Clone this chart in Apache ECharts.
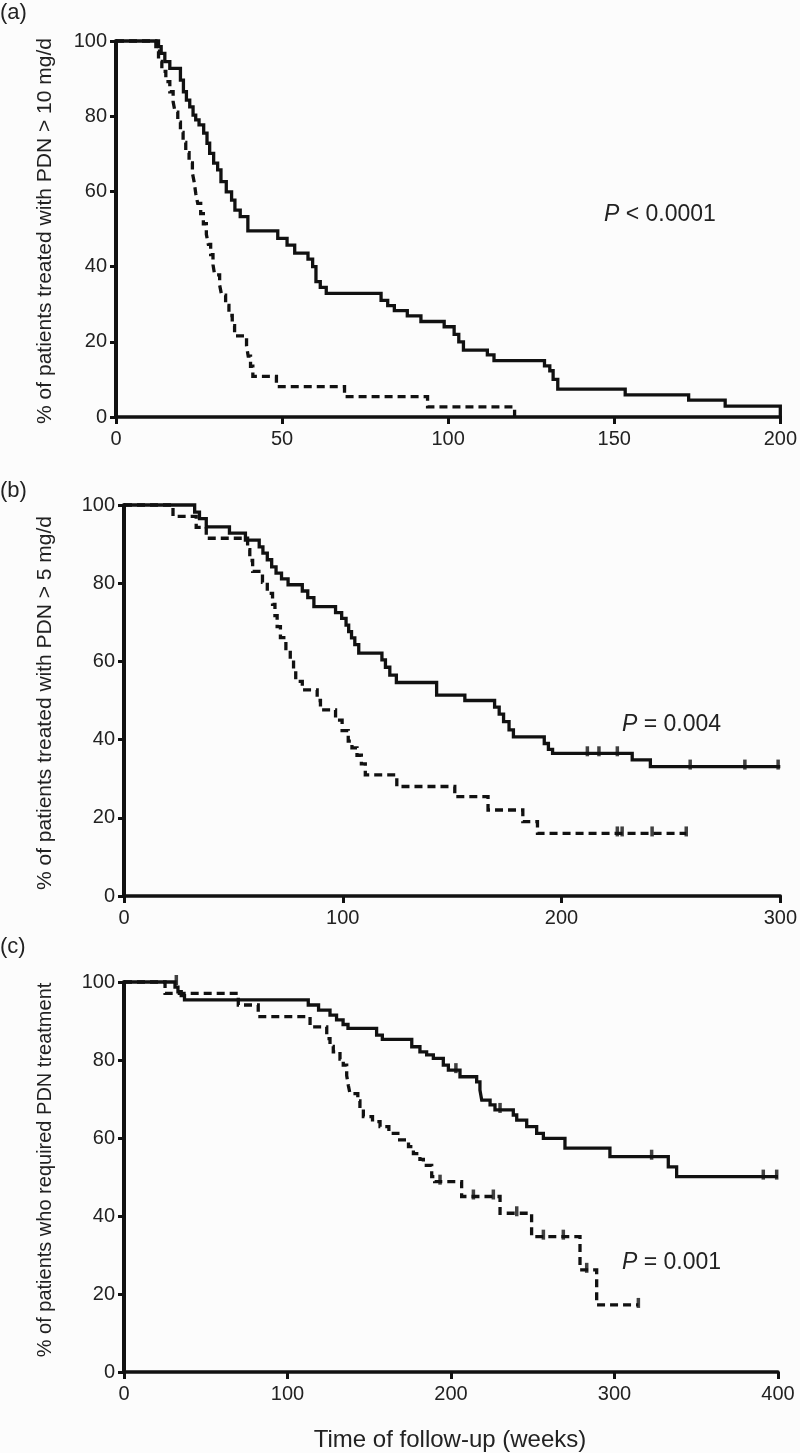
<!DOCTYPE html>
<html><head><meta charset="utf-8">
<script src="https://cdn.jsdelivr.net/npm/echarts@6/dist/echarts.min.js"></script>
<style>html,body{margin:0;padding:0;background:#fcfcfc}#c{width:800px;height:1453px}</style>
</head><body><div id="c"></div>
<script>
// ---------- DATA ----------
// Panel (a): % treated with PDN > 10 mg/d  [weeks, %]
const solidA = [[0,100],[12.8,98.5],[13.6,96.7],[14.7,94.5],[16.2,92.7],[19.4,89.6],[20.3,86.5],[21.2,84.3],[22.2,82.5],[23.2,80.3],[24.0,79.0],[25.0,77.7],[26.4,75.5],[27.4,72.8],[28.2,70.1],[29.4,67.5],[30.6,65.7],[31.6,62.6],[33.2,59.9],[34.8,57.7],[35.8,55.0],[37.4,53.3],[39.7,49.5],[48.7,47.5],[51.5,45.7],[53.8,43.6],[57.8,42.0],[59.2,40.0],[60.2,36.0],[61.5,34.5],[63.3,32.9],[79.8,31.0],[81.8,29.6],[83.8,28.3],[87.7,26.9],[91.8,25.4],[98.8,24.0],[101.8,22.0],[103.2,20.0],[104.6,17.8],[111.8,16.5],[113.8,15.0],[129.0,13.6],[130.6,12.3],[131.6,10.0],[133.0,7.4],[153.3,5.9],[172.4,4.5],[183.4,2.9],[200,0]];
const dashedA = [[0,100],[12.0,97.3],[12.8,94.6],[13.8,91.9],[15.0,89.2],[16.2,86.5],[17.2,83.8],[17.8,81.1],[18.6,78.4],[19.4,75.7],[20.2,73.0],[21.0,70.3],[22.0,67.6],[23.0,64.9],[23.6,62.2],[24.0,59.5],[24.6,56.8],[25.5,54.1],[26.3,51.4],[27.2,48.6],[27.8,45.9],[28.5,43.2],[29.2,40.5],[29.7,37.8],[31.2,35.1],[31.8,32.4],[33.0,29.7],[34.0,27.0],[35.0,24.3],[35.7,21.6],[39.3,18.9],[39.8,16.2],[40.5,13.5],[41.2,10.8],[48.3,8.1],[68.8,5.4],[93.8,2.7],[120,0]];

// Panel (b): % treated with PDN > 5 mg/d
const solidB = [[0,100],[32.3,98.2],[34.5,96.5],[37.6,94.4],[48.2,92.8],[55.5,91.0],[61.8,89.3],[63.5,87.7],[65.5,86.0],[67.5,84.2],[69.5,82.6],[72.0,81.1],[75.0,79.6],[81.5,78.0],[84.0,76.3],[86.8,74.0],[96.7,72.5],[99.5,71.0],[101.5,69.3],[102.7,67.6],[104.0,66.0],[105.5,64.3],[107.3,62.1],[117.9,60.4],[119.5,58.5],[121.5,56.5],[124.5,54.6],[142.9,51.4],[155.8,50.0],[169.4,48.3],[171.5,46.5],[173.5,44.6],[176.0,42.5],[178.0,40.7],[192.1,39.0],[194.0,37.5],[195.9,36.5],[232.3,34.8],[240.6,33.1],[300,33.1]];
const dashedB = [[0,100],[22.4,97.1],[33.0,94.3],[37.6,91.5],[56.5,88.6],[57.5,85.8],[58.8,83.0],[63.3,80.2],[65.5,77.4],[67.9,74.6],[69.0,71.7],[70.0,68.9],[71.5,66.1],[74.0,63.3],[76.0,60.5],[77.5,57.7],[78.5,54.9],[81.5,52.7],[88.3,50.0],[89.8,47.6],[96.7,45.0],[99.7,42.3],[102.5,39.6],[104.2,37.9],[106.5,36.0],[108.5,33.8],[110.3,31.0],[124.7,28.0],[151.2,25.4],[166.4,22.0],[182.3,19.0],[189.0,16.0],[257,16.0]];
const censorSolidB = [[211.8,36.5],[217.1,36.5],[225.5,36.5],[258.8,33.1],[283.8,33.1],[299,33.1]];
const censorDashedB = [[225.5,16.0],[227.7,16.0],[241.4,16.0],[257,16.0]];

// Panel (c): % who required PDN treatment
const solidC = [[0,100],[31.2,98.7],[33.0,97.5],[35.0,96.5],[37.0,95.4],[112.7,94.1],[119.0,92.8],[126.0,91.5],[130.0,90.3],[134.0,89.1],[137.0,88.1],[154.5,86.4],[158.0,85.3],[176.0,83.4],[181.0,82.1],[185.1,81.3],[189.2,80.4],[195.3,78.7],[198.4,77.4],[205.5,75.7],[215.7,74.4],[217.7,72.3],[218.8,69.7],[223.9,68.5],[226.9,67.2],[238.1,65.9],[240.2,64.6],[246.3,62.9],[252.4,61.2],[256.5,59.9],[269.7,57.4],[297.2,55.2],[332.9,52.6],[338.0,50.1],[400,50.1]];
const dashedC = [[0,100],[25.1,97.1],[69.9,94.1],[82.1,91.1],[113.8,88.5],[124.0,85.5],[126.0,83.5],[128.0,82.1],[132.1,80.2],[134.1,78.7],[136.2,76.0],[137.2,73.5],[138.2,71.4],[143.0,69.5],[144.3,68.1],[146.4,65.5],[152.0,64.2],[156.6,62.9],[162.0,61.2],[167.5,59.5],[174.0,57.8],[177.0,56.0],[181.0,54.5],[183.1,53.0],[188.2,50.1],[190.0,48.8],[206.5,45.0],[230.0,40.7],[249.3,34.7],[278.9,26.2],[289.1,17.2],[314.6,17.2]];
const censorSolidC = [[32.0,100],[203.0,77.4],[230.0,67.2],[322.7,55.2],[391.0,50.1],[399.2,50.1]];
const censorDashedC = [[193.3,48.8],[213.7,45.0],[225.9,45.0],[240.2,40.7],[256.5,34.7],[268.7,34.7],[283.0,26.2],[314.6,17.2]];

const xMaxes = [200, 300, 400];
const xIntervals = [50, 100, 100];
const yTitles = ['% of patients treated with PDN > 10 mg/d', '% of patients treated with PDN > 5 mg/d', '% of patients who required PDN treatment'];
const panelLabels = ['(a)', '(b)', '(c)'];
const pLabels = ['< 0.0001', '= 0.004', '= 0.001'];
const xTitle = 'Time of follow-up (weeks)';

// ---------- CHART ----------
const FONT = '"Liberation Sans", Arial, Helvetica, sans-serif';
const INK = '#111';
const chart = echarts.init(document.getElementById('c'));

const grids = [
  {left: 116, top: 41, width: 666, height: 376},
  {left: 124, top: 505, width: 660, height: 391},
  {left: 124, top: 982, width: 654, height: 390}
];

const xAxes = grids.map((g, i) => ({
  type: 'value', gridIndex: i, min: 0, max: xMaxes[i], interval: xIntervals[i],
  axisLine: {show: true, onZero: false, lineStyle: {color: INK, width: 3.5}},
  axisTick: {show: true, length: 7, lineStyle: {color: INK, width: 3}},
  axisLabel: {fontFamily: FONT, fontSize: 20, color: '#222', margin: 12},
  splitLine: {show: false}
}));
const yAxes = grids.map((g, i) => ({
  type: 'value', gridIndex: i, min: 0, max: 100, interval: 20,
  axisLine: {show: true, onZero: false, lineStyle: {color: INK, width: 4}},
  axisTick: {show: true, length: 6, lineStyle: {color: INK, width: 3}},
  axisLabel: {fontFamily: FONT, fontSize: 20, color: '#222', margin: 9},
  splitLine: {show: false}
}));

function stepSeries(data, i, dashed) {
  return {
    type: 'line', xAxisIndex: i, yAxisIndex: i, data: data, step: 'end',
    showSymbol: false, symbol: 'none', clip: false, animation: false,
    lineStyle: {color: INK, width: 3.3, type: dashed ? [8, 5] : 'solid', cap: 'butt', join: 'miter'},
    z: 3
  };
}
function censorSeries(data, i) {
  return {
    type: 'scatter', xAxisIndex: i, yAxisIndex: i, data: data,
    symbol: 'rect', symbolSize: [3.5, 10], symbolOffset: [0, -2],
    itemStyle: {color: INK}, animation: false, clip: false, z: 4
  };
}

const series = [
  stepSeries(solidA, 0, false), stepSeries(dashedA, 0, true),
  stepSeries(solidB, 1, false), stepSeries(dashedB, 1, true),
  censorSeries(censorSolidB, 1), censorSeries(censorDashedB, 1),
  stepSeries(solidC, 2, false), stepSeries(dashedC, 2, true),
  censorSeries(censorSolidC, 2), censorSeries(censorDashedC, 2)
];

const yTitlePos = [[45, 231], [45, 703], [45, 1170]];
const yTitleSizes = [21, 21, 20];
const panelPos = [[0, 13], [0, 491], [0, 947]];
const pPos = [[604, 215], [622, 725], [622, 1263]];

const graphics = [];
for (let i = 0; i < 3; i++) {
  graphics.push({
    type: 'text', x: yTitlePos[i][0], y: yTitlePos[i][1], rotation: Math.PI / 2,
    style: {text: yTitles[i], font: yTitleSizes[i] + 'px ' + FONT, fill: '#222', textAlign: 'center', textVerticalAlign: 'middle'}
  });
  graphics.push({
    type: 'text', x: panelPos[i][0], y: panelPos[i][1],
    style: {text: panelLabels[i], font: '22px ' + FONT, fill: '#222', textAlign: 'left', textVerticalAlign: 'middle'}
  });
  graphics.push({
    type: 'text', x: pPos[i][0], y: pPos[i][1],
    style: {
      text: '{i|P} ' + pLabels[i], textAlign: 'left', textVerticalAlign: 'middle',
      font: '23px ' + FONT, fill: '#222',
      rich: {i: {fontStyle: 'italic', fontSize: 23, fontFamily: FONT, fill: '#222'}}
    }
  });
}
graphics.push({
  type: 'text', x: 450, y: 1440,
  style: {text: xTitle, font: '24px ' + FONT, fill: '#222', textAlign: 'center', textVerticalAlign: 'middle'}
});

chart.setOption({
  backgroundColor: '#fcfcfc',
  animation: false,
  grid: grids,
  xAxis: xAxes,
  yAxis: yAxes,
  series: series,
  graphic: graphics
});
</script>
</body></html>
